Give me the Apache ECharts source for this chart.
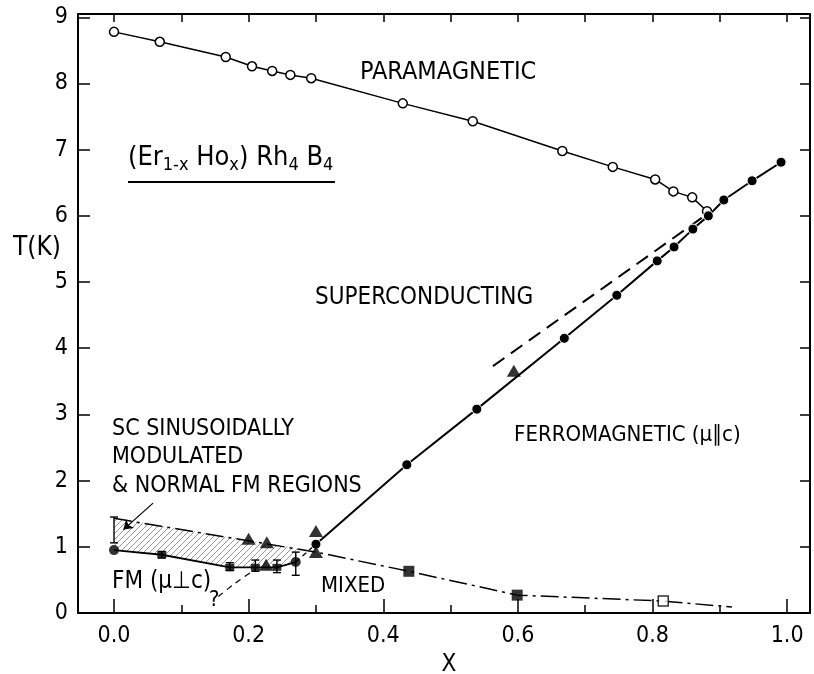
<!DOCTYPE html>
<html><head><meta charset="utf-8">
<script src="https://cdn.jsdelivr.net/npm/echarts@6/dist/echarts.min.js"></script>
<style>html,body{margin:0;padding:0;background:#fff}#c{width:814px;height:674px}</style>
</head><body><div id="c"></div>
<script>
// ---- data ----
const xLabelValues = [0, 0.2, 0.4, 0.6, 0.8, 1.0];
const xMajorTicks = [0, 0.2, 0.4, 0.6, 0.8, 1.0];
const xMinorTicks = [0.1, 0.3, 0.5, 0.7, 0.9];
const xTopTicks = [0, 0.1, 0.2, 0.3, 0.4, 0.5, 0.6, 0.7, 0.8, 0.9, 1.0];
const yTicks = [0, 1, 2, 3, 4, 5, 6, 7, 8, 9];

// paramagnetic -> superconducting (open circles)
const paraData = [[0,8.78],[0.068,8.63],[0.166,8.40],[0.205,8.26],[0.235,8.19],[0.262,8.13],[0.293,8.08],[0.429,7.70],[0.533,7.43],[0.666,6.98],[0.741,6.74],[0.804,6.55],[0.831,6.37],[0.859,6.28],[0.881,6.07]];
// ferromagnetic (mu || c) boundary (filled circles)
const fmData = [[0.3,1.04],[0.435,2.24],[0.539,3.08],[0.669,4.15],[0.747,4.80],[0.807,5.32],[0.832,5.53],[0.860,5.80],[0.883,6.00],[0.906,6.24],[0.948,6.53],[0.991,6.81]];
// dashed extrapolation
const dashData = [[0.563,3.73],[0.876,5.99]];
// dash-dot boundary (SC / mixed)
const mixedData = [[0,1.43],[0.3,0.92],[0.438,0.63],[0.599,0.27],[0.816,0.18],[0.918,0.09]];
// FM (mu perp c) lower boundary
const lowerData = [[0,0.95],[0.071,0.88],[0.172,0.69],[0.21,0.69],[0.242,0.69],[0.27,0.77]];
const lowerLink = [[0.27,0.77],[0.3,1.04]];
const questionData = [[0.155,0.25],[0.18,0.45],[0.21,0.66]];
// markers
const circlePts = [[0,0.95],[0.27,0.77]];
const rectPts = [[0.071,0.88],[0.172,0.69],[0.21,0.69],[0.242,0.69]];
const trianglePts = [[0.2,1.12],[0.227,1.07],[0.3,1.24],[0.3,0.92],[0.226,0.73],[0.594,3.66]];
const squarePts = [[0.438,0.63],[0.599,0.27]];
const openSquarePts = [[0.816,0.18]];
// error bars [x, low, high]
const errorBars = [[0,1.06,1.45],[0.071,0.83,0.93],[0.172,0.64,0.76],[0.21,0.63,0.80],[0.242,0.61,0.80],[0.27,0.57,0.92]];
// hatched region boundary
const hatchUpper = [[0,1.43],[0.273,0.975]];
const hatchLower = [[0.27,0.77],[0.242,0.69],[0.172,0.69],[0.071,0.88],[0,0.95]];
// annotation arrow
const arrowFrom = [0.058,1.66];
const arrowTo = [0.014,1.26];

const XMIN = -0.0535, XMAX = 1.034, YMIN = 0, YMAX = 9.05;
const FONT = "'Liberation Sans Narrow','DejaVu Sans Condensed','Liberation Sans',Arial,sans-serif";

// hatch pattern
const pc = document.createElement('canvas');
pc.width = 6; pc.height = 6;
const ctx = pc.getContext('2d');
ctx.strokeStyle = '#8a8a8a'; ctx.lineWidth = 0.9;
ctx.beginPath();
ctx.moveTo(0,6); ctx.lineTo(6,0);
ctx.moveTo(-1,1); ctx.lineTo(1,-1);
ctx.moveTo(5,7); ctx.lineTo(7,5);
ctx.stroke();

const chart = echarts.init(document.getElementById('c'), null, {renderer:'canvas'});
const black = '#000';
const axisCommon = {type:'value', splitLine:{show:false}};

function txt(x, y, text, size, extra) {
  return Object.assign({type:'text', x:x, y:y, silent:true,
    style:Object.assign({text:text, fontSize:size, fontFamily:FONT, fill:black, align:'left', verticalAlign:'middle'}, extra||{})});
}

chart.setOption({
  animation:false,
  backgroundColor:'#fff',
  grid:{left:78, right:4, top:14, bottom:61},
  xAxis:[
    Object.assign({}, axisCommon, {min:XMIN, max:XMAX, position:'bottom',
      axisLine:{show:true, onZero:false, lineStyle:{color:black, width:2}},
      axisTick:{show:true, inside:true, length:14, customValues:xMajorTicks, lineStyle:{color:black, width:1.5}},
      axisLabel:{show:true, customValues:xLabelValues, formatter:v=>Number(v).toFixed(1), fontSize:23, fontFamily:FONT, color:black, margin:12}}),
    Object.assign({}, axisCommon, {min:XMIN, max:XMAX, position:'bottom',
      axisLine:{show:false, onZero:false},
      axisTick:{show:true, inside:true, length:8, customValues:xMinorTicks, lineStyle:{color:black, width:1.5}},
      axisLabel:{show:false}}),
    Object.assign({}, axisCommon, {min:XMIN, max:XMAX, position:'top',
      axisLine:{show:true, onZero:false, lineStyle:{color:black, width:2}},
      axisTick:{show:true, inside:true, length:8, customValues:xTopTicks, lineStyle:{color:black, width:1.5}},
      axisLabel:{show:false}})
  ],
  yAxis:[
    Object.assign({}, axisCommon, {min:YMIN, max:YMAX, position:'left',
      axisLine:{show:true, onZero:false, lineStyle:{color:black, width:2}},
      axisTick:{show:true, inside:true, length:12, customValues:yTicks, lineStyle:{color:black, width:1.5}},
      axisLabel:{show:true, customValues:yTicks, formatter:v=>String(v), fontSize:23, fontFamily:FONT, color:black, margin:10}}),
    Object.assign({}, axisCommon, {min:YMIN, max:YMAX, position:'right',
      axisLine:{show:true, onZero:false, lineStyle:{color:black, width:2}},
      axisTick:{show:true, inside:true, length:10, customValues:yTicks, lineStyle:{color:black, width:1.5}},
      axisLabel:{show:false}})
  ],
  series:[
    {type:'custom', name:'hatch', silent:true, z:1, data:[[0,0]],
      renderItem:function(params, api){
        const pts = hatchUpper.concat(hatchLower).map(p=>api.coord(p));
        return {type:'polygon', shape:{points:pts}, style:{fill:{image:pc, repeat:'repeat'}, stroke:null}};
      }},
    {type:'line', name:'PM', data:paraData, symbol:'circle', symbolSize:9, z:4,
      itemStyle:{color:'#fff', borderColor:black, borderWidth:1.5},
      lineStyle:{color:black, width:1.5}},
    {type:'line', name:'FM par', data:fmData, symbol:'circle', symbolSize:10, z:4,
      itemStyle:{color:black, borderColor:'#fff', borderWidth:1},
      lineStyle:{color:black, width:2}},
    {type:'line', name:'dashed', data:dashData, symbol:'none', z:3,
      lineStyle:{color:black, width:2, type:[14,8]}},
    {type:'line', name:'mixed', data:mixedData, symbol:'none', z:3,
      lineStyle:{color:black, width:1.5, type:[18,5,3,5]}},
    {type:'line', name:'lower', data:lowerData, symbol:'none', z:3,
      lineStyle:{color:black, width:1.8},
      markLine:{silent:true, symbol:['none','arrow'], symbolSize:9, label:{show:false},
        lineStyle:{color:black, width:1.2, type:'solid', curveness:-0.15},
        emphasis:{disabled:true},
        data:[[{coord:arrowFrom},{coord:arrowTo}]]}},
    {type:'line', name:'link', data:lowerLink, symbol:'none', z:3,
      lineStyle:{color:black, width:1.3, type:[5,4]}},
    {type:'line', name:'question', data:questionData, symbol:'none', smooth:0.3, z:3,
      lineStyle:{color:black, width:1.2, type:[6,5]}},
    {type:'scatter', name:'circles', data:circlePts, symbol:'circle', symbolSize:10, z:5, itemStyle:{color:black}},
    {type:'scatter', name:'rects', data:rectPts, symbol:'rect', symbolSize:[9,7], z:5, itemStyle:{color:black}},
    {type:'scatter', name:'triangles', data:trianglePts, symbol:'triangle', symbolSize:[14,12], z:5, itemStyle:{color:black}},
    {type:'scatter', name:'squares', data:squarePts, symbol:'rect', symbolSize:11, z:5, itemStyle:{color:black}},
    {type:'scatter', name:'open squares', data:openSquarePts, symbol:'rect', symbolSize:10, z:5,
      itemStyle:{color:'#fff', borderColor:black, borderWidth:1.5}},
    {type:'custom', name:'errors', data:errorBars, z:5, silent:true, encode:{x:0, y:[1,2]},
      renderItem:function(params, api){
        const x = api.value(0);
        const a = api.coord([x, api.value(1)]), b = api.coord([x, api.value(2)]);
        const w = 4, st = {stroke:black, lineWidth:1.4};
        return {type:'group', children:[
          {type:'line', shape:{x1:a[0], y1:a[1], x2:b[0], y2:b[1]}, style:st},
          {type:'line', shape:{x1:a[0]-w, y1:a[1], x2:a[0]+w, y2:a[1]}, style:st},
          {type:'line', shape:{x1:b[0]-w, y1:b[1], x2:b[0]+w, y2:b[1]}, style:st}
        ]};
      }}
  ],
  graphic:[
    txt(360, 72, 'PARAMAGNETIC', 25),
    {type:'text', x:128, y:158, silent:true, style:{
      text:'(Er{s|1-x} Ho{s|x}) Rh{s|4} B{s|4}', fontSize:27, fontFamily:FONT, fill:black, align:'left', verticalAlign:'middle',
      rich:{s:{fontSize:18, fontFamily:FONT, fill:black, padding:[15,0,0,0]}}}},
    {type:'line', silent:true, shape:{x1:128, y1:182, x2:335, y2:182}, style:{stroke:black, lineWidth:2}},
    txt(13, 248, 'T(K)', 26),
    txt(315, 298, 'SUPERCONDUCTING', 24),
    txt(514, 435, 'FERROMAGNETIC (μ∥c)', 22),
    txt(112, 429, 'SC SINUSOIDALLY', 23),
    txt(112, 457, 'MODULATED', 23),
    txt(112, 486, '& NORMAL FM REGIONS', 23),
    txt(112, 582, 'FM (μ⊥c)', 24),
    txt(209, 600, '?', 22),
    txt(321, 586, 'MIXED', 22),
    txt(449, 665, 'X', 24, {align:'center'})
  ]
});
</script></body></html>
